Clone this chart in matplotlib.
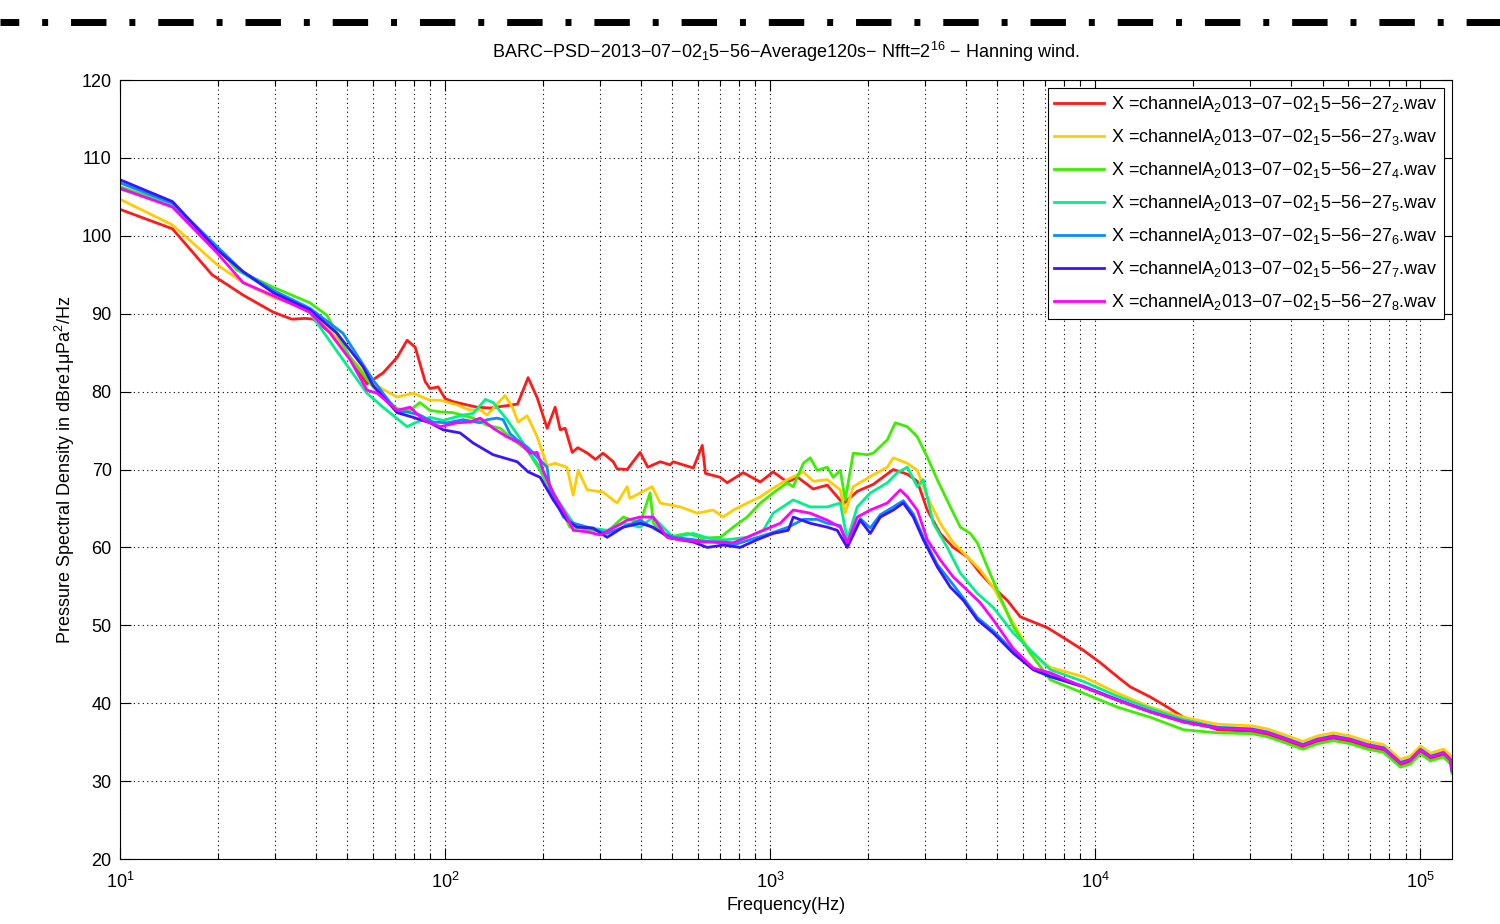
import matplotlib
matplotlib.use("Agg")
import matplotlib.pyplot as plt
from matplotlib.lines import Line2D
from matplotlib.ticker import LogLocator, NullFormatter, FixedLocator

plt.rcParams['font.family'] = ['Liberation Sans', 'DejaVu Sans']
plt.rcParams['mathtext.fontset'] = 'custom'
plt.rcParams['mathtext.rm'] = 'Liberation Sans'
plt.rcParams['mathtext.it'] = 'Liberation Sans:italic'
plt.rcParams['mathtext.default'] = 'regular'

# ---- data (Hz, dB re 1uPa^2/Hz) ----
tail_f = [18660, 23740, 30270, 33820, 37880, 43460, 48220, 54000, 60880,
          68700, 76950, 86800, 93160, 100000, 107300, 117700, 123700, 125000]

red_f = [10, 14.5, 19.2, 23.9, 29.6, 33.8, 37.1, 39.3, 46.5, 51, 57.5, 64.4,
         71.2, 76.4, 80.9, 86.8, 89.8, 95.2, 100, 106, 125.5, 138, 167, 180,
         192, 206, 218, 226, 234, 246, 256, 274, 290, 306, 329, 338, 363, 398,
         420, 459, 492, 503, 580, 618, 632, 702, 737, 826, 932, 1021, 1128,
         1215, 1356, 1498, 1677, 1852, 2075, 2390, 2640, 2833, 3041, 3334,
         3656, 4038, 4426, 4853, 5358, 5875, 7118, 8201, 9185, 10360, 11690,
         12810, 14760, 16660] + tail_f
red_db = [103.4, 100.9, 95.0, 92.4, 90.2, 89.3, 89.4, 89.3, 86.9, 84.3, 81.0,
          82.4, 84.4, 86.6, 85.7, 81.3, 80.4, 80.6, 79.1, 78.7, 78.0, 77.9,
          78.4, 81.8, 79.2, 75.3, 78.0, 75.1, 75.3, 72.2, 72.8, 72.1, 71.3,
          72.1, 71.0, 70.1, 70.0, 72.2, 70.3, 71.0, 70.6, 71.0, 70.2, 73.1,
          69.5, 69.0, 68.3, 69.6, 68.4, 69.7, 68.4, 69.0, 67.5, 68.0, 65.6,
          67.2, 68.1, 70.0, 69.4, 68.5, 64.8, 61.8, 60.0, 58.8, 56.7, 54.9,
          53.2, 51.1, 49.7, 48.1, 46.8, 45.2, 43.4, 42.1, 40.8, 39.5,
          38.2, 36.6, 36.4, 36.0, 35.3, 34.4, 35.1, 35.5, 35.1, 34.4, 34.0,
          32.1, 32.5, 33.8, 32.9, 33.4, 32.5, 31.2]

yellow_f = [10, 14.5, 19.9, 23.9, 29.6, 38.4, 44.3, 51, 60, 64.4, 71.2, 79.7,
            89.8, 96.5, 108.9, 119.4, 128, 134.6, 152.9, 161, 167.7, 178.8,
            191.9, 205.9, 218, 237, 247.7, 256.5, 273.5, 306, 338, 363, 370,
            398, 433, 459, 529, 596, 668, 716, 770, 850, 932, 1021, 1128, 1264,
            1356, 1498, 1642, 1701, 1800, 2031, 2291, 2390, 2640, 2833, 3041,
            3334, 3656, 4038, 4426, 4853, 5358, 6004, 6310, 7271, 9185, 11690,
            14760] + tail_f
yellow_db = [104.7, 101.4, 96.3, 94.0, 92.1, 90.5, 88.0, 84.5, 81.1, 80.3,
             79.3, 79.8, 78.9, 78.9, 78.3, 77.6, 77.7, 77.0, 79.5, 78.0, 76.1,
             76.9, 74.2, 70.5, 70.8, 70.3, 66.7, 69.9, 67.4, 67.1, 65.7, 67.8,
             66.3, 67.0, 67.8, 65.7, 65.2, 64.4, 64.8, 63.9, 64.8, 65.7, 66.5,
             67.6, 68.7, 69.7, 68.5, 68.7, 67.4, 64.4, 67.8, 69.1, 70.3, 71.5,
             70.8, 69.9, 66.5, 63.1, 60.6, 58.8, 57.1, 54.9, 51.6, 48.1, 46.6,
             44.6, 43.4, 41.3, 39.5,
             38.2, 37.3, 37.1, 36.7, 36.0, 35.1, 35.8, 36.2, 35.8, 35.1, 34.7,
             32.8, 33.2, 34.5, 33.6, 34.1, 33.3, 32.0]

green_f = [10, 14.5, 19.9, 22.9, 29.6, 38.4, 43.3, 51, 60, 71.2, 78, 83.6,
           89.8, 96.5, 105.8, 122, 134.6, 147.6, 161.9, 178.8, 196, 210, 226,
           242, 260, 285, 315, 353, 398, 427, 437, 482, 556, 622, 702, 769,
           849, 932, 1021, 1128, 1177, 1264, 1327, 1395, 1498, 1562, 1642, 1701,
           1800, 1988, 2075, 2291, 2424, 2640, 2833, 3041, 3264, 3580, 3844,
           4125, 4335, 4653, 5101, 5595, 6310, 7271, 9185, 11690, 14760] + tail_f
green_db = [106.3, 104.0, 98.5, 95.6, 93.4, 91.4, 89.8, 84.4, 80.6, 77.8, 77.6,
            78.6, 77.6, 77.4, 77.3, 76.6, 75.7, 75.3, 73.8, 72.5, 69.9, 67.4,
            65.2, 62.6, 62.5, 62.2, 62.0, 63.9, 63.1, 67.0, 63.1, 61.3, 61.8,
            61.2, 61.3, 62.6, 63.9, 65.7, 67.0, 68.3, 67.8, 70.8, 71.5, 69.9,
            70.3, 69.0, 69.9, 66.1, 72.1, 71.9, 72.1, 73.8, 76.0, 75.5, 74.2,
            71.6, 68.7, 65.2, 62.6, 61.8, 60.6, 57.5, 53.6, 49.8, 46.4, 43.0,
            41.3, 39.5, 38.2,
            36.6, 36.2, 36.1, 35.7, 35.0, 34.1, 34.8, 35.2, 34.8, 34.1, 33.7,
            31.8, 32.2, 33.5, 32.6, 33.1, 32.2, 31.0]

spring_f = [10, 14.5, 19.9, 23.9, 29.6, 38.4, 48.5, 57.5, 64.4, 76.4, 80.9,
            89.8, 98.6, 113.6, 122, 133, 140.5, 155, 170, 182.6, 196, 221, 248,
            279, 315, 353, 398, 436, 503, 579, 668, 737, 849, 952, 1021, 1177,
            1327, 1498, 1642, 1726, 1852, 2031, 2291, 2459, 2640, 2833, 2956,
            3173, 3504, 3844, 4335, 4853, 5595, 6177, 7271, 9185, 11690,
            14760] + tail_f
spring_db = [106.0, 103.9, 98.3, 95.2, 92.9, 90.1, 84.1, 79.8, 78.0, 75.5,
             76.0, 76.7, 76.3, 77.0, 77.2, 79.0, 78.6, 76.4, 74.0, 72.0, 70.3,
             66.2, 63.1, 62.5, 62.2, 63.1, 62.6, 63.9, 61.3, 61.8, 61.0, 61.0,
             61.3, 62.2, 64.4, 66.1, 65.2, 65.2, 65.7, 61.0, 65.2, 67.0, 68.3,
             69.6, 70.3, 67.8, 68.7, 63.1, 60.0, 56.7, 54.1, 52.3, 49.0, 47.2,
             44.3, 42.8, 40.9, 39.3,
             37.9, 36.9, 36.7, 36.3, 35.6, 34.7, 35.4, 35.8, 35.4, 34.7, 34.3,
             32.4, 32.8, 34.1, 33.2, 33.7, 32.8, 31.5]

azure_f = [10, 14.5, 19.9, 23.9, 29.6, 38.4, 48.5, 60, 71.2, 76.4, 83.6, 91.8,
           101.4, 113.6, 128, 134.6, 144.5, 150.8, 158.5, 166.6, 178.8, 191.9,
           205.9, 210.4, 231, 248, 273.5, 315, 353, 398, 449, 503, 579, 668,
           769, 868, 1000, 1136, 1264, 1395, 1498, 1642, 1726, 1892, 2031, 2181,
           2390, 2566, 2754, 2956, 3264, 3656, 3926, 4335, 4853, 5595, 6442,
           7271, 9185, 11690, 14760] + tail_f
azure_db = [106.8, 104.2, 98.6, 95.4, 93.0, 90.7, 87.5, 81.5, 77.4, 77.4, 77.0,
            76.1, 76.0, 76.4, 76.0, 76.4, 76.6, 76.4, 74.6, 73.8, 72.9, 71.6,
            70.3, 67.4, 63.9, 63.1, 62.6, 61.8, 62.6, 63.5, 62.2, 61.3, 61.0,
            60.7, 60.3, 61.0, 61.8, 62.6, 63.6, 63.6, 63.1, 62.8, 60.3, 63.7,
            62.5, 64.2, 65.2, 66.0, 64.3, 61.3, 57.8, 55.2, 53.5, 51.0, 49.3,
            46.7, 44.5, 43.5, 42.2, 40.5, 38.9,
            37.7, 36.9, 36.7, 36.3, 35.6, 34.7, 35.4, 35.8, 35.4, 34.7, 34.3,
            32.4, 32.8, 34.1, 33.2, 33.7, 32.8, 31.5]

purple_f = [10, 14.5, 19.9, 23.9, 29.6, 38.4, 46.5, 55.9, 60, 71.2, 79.7, 89.8,
            98.6, 111.2, 122, 140.5, 166.6, 180, 196, 215, 237, 254.7, 285,
            315, 353, 398, 436, 492, 579, 640, 717, 808, 912, 1021, 1136, 1177,
            1327, 1498, 1607, 1726, 1892, 2031, 2181, 2390, 2566, 2754, 2956,
            3264, 3580, 3926, 4335, 4853, 5595, 6442, 7271, 9185, 11690,
            14760] + tail_f
purple_db = [107.2, 104.4, 98.2, 95.4, 92.7, 90.5, 87.5, 83.2, 80.8, 77.3,
             76.7, 76.0, 75.1, 74.7, 73.4, 71.9, 71.0, 69.7, 69.0, 66.1, 63.5,
             62.6, 62.5, 61.3, 62.6, 63.1, 62.6, 61.2, 60.7, 60.0, 60.3, 60.0,
             61.0, 61.8, 62.2, 63.9, 63.1, 62.6, 62.2, 60.0, 63.5, 61.8, 63.9,
             64.8, 65.7, 63.9, 61.0, 57.5, 54.9, 53.2, 50.7, 49.0, 46.4, 44.3,
             43.4, 42.1, 40.4, 38.9,
             37.6, 36.8, 36.6, 36.2, 35.5, 34.6, 35.3, 35.7, 35.3, 34.6, 34.2,
             32.3, 32.7, 34.0, 33.1, 33.6, 32.7, 31.4]

magenta_f = [10, 14.5, 19.9, 23.9, 30.4, 38.4, 44.3, 51, 57.5, 61.8, 71.2, 78,
             85.6, 96.5, 108.9, 119.4, 128.2, 140.5, 155, 170, 182.6, 191.9,
             200, 215, 237, 248, 273.5, 300, 329, 363, 398, 436, 482, 529, 609,
             702, 769, 849, 952, 1073, 1177, 1327, 1498, 1642, 1726, 1852, 2031,
             2291, 2512, 2640, 2833, 3041, 3334, 3656, 4038, 4426, 4853, 5595,
             6442, 7271, 9185, 11690, 14760] + tail_f
magenta_db = [106.1, 103.7, 97.8, 94.0, 92.1, 90.2, 87.5, 84.1, 80.2, 79.8,
              77.6, 78.0, 76.4, 75.5, 76.0, 76.1, 76.6, 75.3, 74.2, 73.4, 72.1,
              72.2, 69.9, 67.0, 63.9, 62.2, 62.0, 61.6, 62.5, 63.5, 63.9, 63.9,
              61.3, 61.0, 60.7, 60.7, 60.6, 61.3, 62.2, 63.1, 64.8, 64.4, 63.5,
              62.6, 60.6, 63.9, 64.8, 65.7, 67.4, 66.5, 64.8, 61.0, 58.4, 56.2,
              54.5, 52.9, 50.7, 47.0, 44.5, 43.9, 42.1, 40.4, 38.9,
              37.6, 36.8, 36.6, 36.2, 35.5, 34.6, 35.3, 35.7, 35.3, 34.6, 34.2,
              32.3, 32.7, 34.0, 33.1, 33.6, 32.7, 31.4]

series = [
    (red_f, red_db, '#ff1a1a', '2'),
    (yellow_f, yellow_db, '#ffcc00', '3'),
    (green_f, green_db, '#3cee00', '4'),
    (spring_f, spring_db, '#00f08c', '5'),
    (azure_f, azure_db, '#0a8cff', '6'),
    (purple_f, purple_db, '#3a14ff', '7'),
    (magenta_f, magenta_db, '#ff00ff', '8'),
]

fig = plt.figure(figsize=(15, 9.24), dpi=100)
ax = fig.add_axes([0.08, 0.0703, 0.888, 0.8431])

for f, db, col, k in series:
    lab = r'X =channelA$_2$013−07−02$_1$5−56−27$_' + k + r'$.wav'
    ax.plot(f, db, color=col, lw=2.0, label=lab)

ax.set_xscale('log')
ax.set_xlim(10, 125000)
ax.set_ylim(20, 120)
ax.set_yticks(range(20, 121, 10))
ax.xaxis.set_major_locator(FixedLocator([10, 100, 1000, 10000, 100000]))
ax.set_xticklabels([r'$10^{1}$', r'$10^{2}$', r'$10^{3}$', r'$10^{4}$', r'$10^{5}$'])
ax.xaxis.set_minor_locator(LogLocator(base=10, subs=range(2, 10), numticks=20))
ax.xaxis.set_minor_formatter(NullFormatter())

ax.grid(True, which='major', color='black', linestyle=(0, (1, 3)), lw=0.8)
ax.grid(True, which='minor', axis='x', color='black', linestyle=(0, (1, 3)), lw=0.8)

ax.tick_params(which='both', direction='in', top=True, right=True,
               labelsize=13, width=0.8)
ax.tick_params(which='major', length=8)
ax.tick_params(which='minor', length=4)
ax.tick_params(axis='x', which='major', pad=9)
ax.tick_params(axis='y', which='major', pad=6)
for sp in ax.spines.values():
    sp.set_linewidth(0.8)

ax.set_xlabel('Frequency(Hz)', fontsize=13, labelpad=4)
ax.set_ylabel('Pressure Spectral Density in dBre1μPa$^2$/Hz', fontsize=13, labelpad=3)
ax.set_title(r'BARC−PSD−2013−07−02$_1$5−56−Average120s− Nfft=2$^{16}$ − Hanning wind.',
             fontsize=13, pad=16)

leg = ax.legend(loc='upper right', fontsize=13, frameon=True, fancybox=False,
                framealpha=1, edgecolor='black', handlelength=2.8,
                borderpad=0.35, labelspacing=0.72, handletextpad=0.35,
                borderaxespad=0.45)
leg.get_frame().set_linewidth(0.8)

# dash-dot separator line at the top of the page
fig.add_artist(Line2D([0, 1], [0.976, 0.976], transform=fig.transFigure,
                      color='black', lw=5.0, solid_capstyle='butt',
                      dash_capstyle='butt',
                      linestyle=(2.4, (5.1, 3.3, 0.86, 3.3))))

fig.savefig('out.png', dpi=100)
